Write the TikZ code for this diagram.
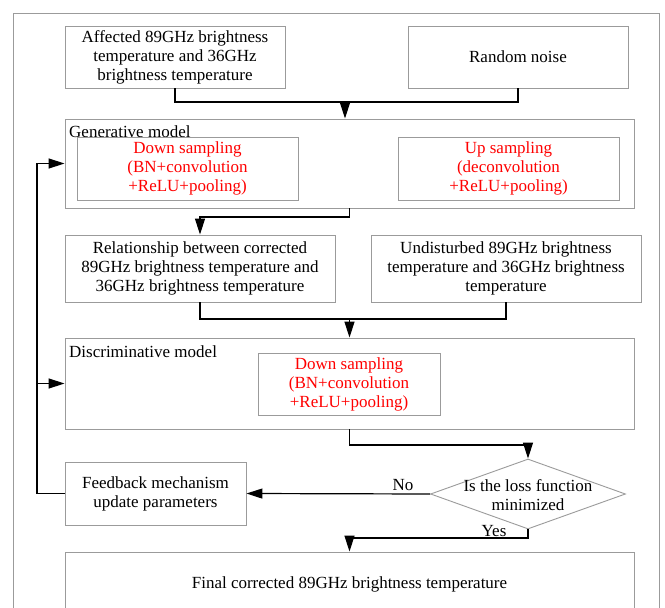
\documentclass[tikz,border=0pt]{standalone}
\usepackage{fontspec}
\setmainfont{Liberation Serif}
\usetikzlibrary{shapes.geometric,arrows.meta}
\definecolor{boxgray}{RGB}{155,155,155}
\newcommand\myfs{\fontsize{17}{19}\selectfont}
\begin{document}
\begin{tikzpicture}[x=1pt,y=-1pt,
  box/.style={draw=boxgray, line width=0.9pt, rectangle, inner sep=0pt, align=center, font=\myfs},
  redbox/.style={box, text=red},
  conn/.style={draw=black, line width=1.2pt},
  arr/.style={conn, -{Triangle[length=16pt,width=10pt]}},
  lbl/.style={font=\myfs, inner sep=0pt}]
\useasboundingbox (0,0) rectangle (665,608);
\fill[white] (0,0) rectangle (665,608);
\clip (0,0) rectangle (665,608);
\draw[boxgray, line width=0.9pt] (13,13) rectangle (659,640);

\node[box, minimum width=220, minimum height=62] (A) at (175,57)
  {Affected 89GHz brightness\\temperature and 36GHz\\brightness temperature};
\node[box, minimum width=220, minimum height=62] (B) at (518,57) {Random noise};

\node[box, minimum width=569, minimum height=89] (gen) at (349.5,163.5) {};
\node[lbl, anchor=base west] (genl) at (69,137) {Generative model};
\node[redbox, minimum width=221, minimum height=63] (down1) at (187.5,168.5)
  {Down sampling\\(BN+convolution\\+ReLU+pooling)};
\node[redbox, minimum width=221, minimum height=63] (up1) at (508.5,168.5)
  {Up sampling\\(deconvolution\\+ReLU+pooling)};

\node[box, minimum width=270, minimum height=67] (C) at (200,268.5)
  {Relationship between corrected\\89GHz brightness temperature and\\36GHz brightness temperature};
\node[box, minimum width=270, minimum height=67] (D) at (506,268.5)
  {Undisturbed 89GHz brightness\\temperature and 36GHz brightness\\temperature};

\node[box, minimum width=569, minimum height=91] (disc) at (349.5,383.5) {};
\node[lbl, anchor=base west] (discl) at (69,357) {Discriminative model};
\node[redbox, minimum width=182, minimum height=62] (down2) at (349,384)
  {Down sampling\\(BN+convolution\\+ReLU+pooling)};

\node[box, minimum width=181, minimum height=63] (fb) at (155.5,493.5)
  {Feedback mechanism\\update parameters};
\node[draw=boxgray, line width=0.9pt, diamond, inner sep=0pt, minimum width=195, minimum height=70] (dia) at (528,494) {};
\node[lbl, align=center] (diat) at (528,495) {Is the loss function\\minimized};

\node[box, minimum width=569, minimum height=64] (fin) at (349.5,584)
  {Final corrected 89GHz brightness temperature};

% connectors
\coordinate (m1) at (345,102);
\draw[conn] (A.south) -- (A.south |- m1) -- (B.south |- m1) -- (B.south);
\draw[arr] (m1) -- (m1 |- gen.north);

\coordinate (m2) at (0,217);
\draw[arr] (gen.south) -- (gen.south |- m2) -| (C.north);

\coordinate (m3) at (349.5,319);
\draw[conn] (C.south) -- (C.south |- m3) -- (D.south |- m3) -- (D.south);
\draw[arr] (m3) -- (m3 |- disc.north);

\coordinate (m4) at (0,445);
\draw[arr] (disc.south) -- (disc.south |- m4) -| (dia.north);

\draw[arr] (dia.west) -- (fb.east);
\node[lbl, anchor=base] (no) at (403,490) {No};

\coordinate (m5) at (37,0);
\draw[arr] (fb.west) -- (fb.west -| m5) -- (gen.west -| m5) -- (gen.west);
\draw[arr] (disc.west -| m5) -- (disc.west);

\coordinate (m6) at (0,538);
\draw[arr] (dia.south) -- (dia.south |- m6) -| (fin.north);
\node[lbl, anchor=base] (yes) at (494,536) {Yes};
\end{tikzpicture}
\end{document}
